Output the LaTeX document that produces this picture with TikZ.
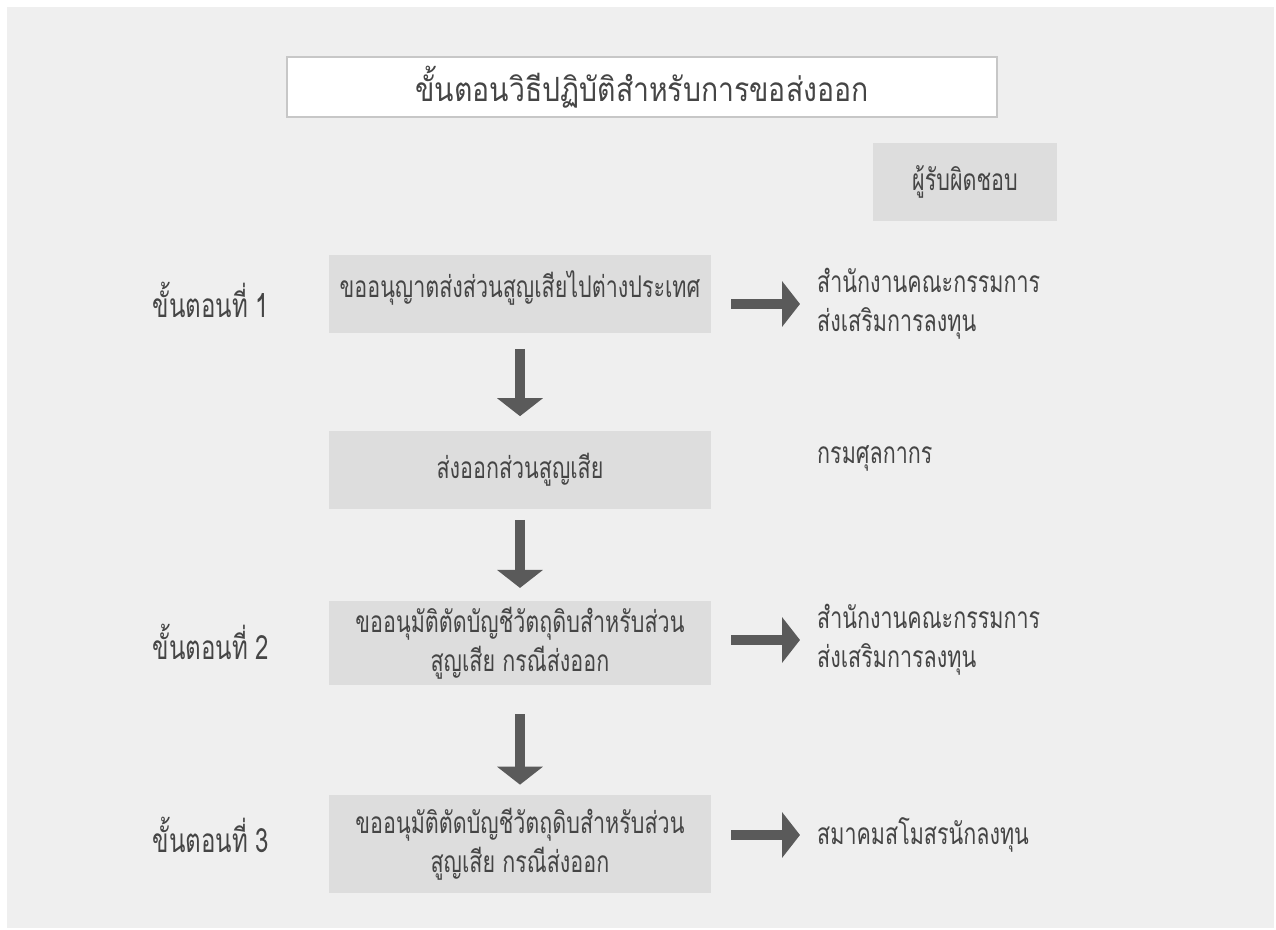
\documentclass[tikz,border=0pt]{standalone}
\usepackage{fontspec}
\setmainfont[Script=Thai]{Loma}
\newfontfamily\thaititle[Script=Thai,FakeStretch=0.85]{Loma}
\newfontfamily\thainarrow[Script=Thai,FakeStretch=0.72]{Loma}
\usetikzlibrary{arrows.meta}
\definecolor{bggray}{HTML}{EFEFEF}
\definecolor{boxgray}{HTML}{DDDDDD}
\definecolor{arrowgray}{HTML}{5A5A5A}
\definecolor{textgray}{HTML}{454545}
\tikzset{
  stepbox/.style={fill=boxgray, minimum width=7.64cm, minimum height=1.58cm,
    align=center, text=textgray, font=\thainarrow\fontsize{17}{22}\selectfont},
  steplabel/.style={text=textgray, font=\thainarrow\fontsize{19}{22}\selectfont},
  whobox/.style={align=left, anchor=west, text=textgray,
    font=\thainarrow\fontsize{17}{22}\selectfont},
  bigarrow/.style={draw=arrowgray, line width=0.21cm,
    -{Triangle[width=0.9cm,length=0.36cm]}}
}
\begin{document}
\begin{tikzpicture}[x=0.02cm, y=-0.02cm]
	\useasboundingbox (0,0) rectangle (1276,930);
	\fill[white] (0,0) rectangle (1276,930);
	\fill[bggray] (7,7) rectangle (1274,928);
	
	\node (title) [draw=black!22, line width=1.5pt, fill=white, minimum width=14.2cm, minimum height=1.2cm,
		text=textgray, font=\thaititle\fontsize{19}{24}\selectfont] at (642,87) {ขั้นตอนวิธีปฏิบัติสำหรับการขอส่งออก};
	\node (who) [fill=boxgray, minimum width=3.68cm, minimum height=1.58cm, text=textgray,
		font=\thainarrow\fontsize{17}{22}\selectfont] at (965,182) {ผู้รับผิดชอบ};
	
	\node (s1) [stepbox, text depth=0.4cm] at (520,294) {ขออนุญาตส่งส่วนสูญเสียไปต่างประเทศ};
	\node (s2) [stepbox] at (520,470) {ส่งออกส่วนสูญเสีย};
	\node (s3) [stepbox] at (520,643) {ขออนุมัติตัดบัญชีวัตถุดิบสำหรับส่วน\\สูญเสีย กรณีส่งออก};
	\node (s4) [stepbox, minimum height=1.96cm] at (520,844) {ขออนุมัติตัดบัญชีวัตถุดิบสำหรับส่วน\\สูญเสีย กรณีส่งออก};
	
	\node (l1) [steplabel] at (211,300) {ขั้นตอนที่ 1};
	\node (l2) [steplabel] at (211,642) {ขั้นตอนที่ 2};
	\node (l3) [steplabel] at (211,835) {ขั้นตอนที่ 3};
	
	\node (r1) [whobox] at (811,304) {สำนักงานคณะกรรมการ\\ส่งเสริมการลงทุน};
	\node (r2) [whobox] at (811,458) {กรมศุลกากร};
	\node (r3) [whobox] at (811,640) {สำนักงานคณะกรรมการ\\ส่งเสริมการลงทุน};
	\node (r4) [whobox] at (811,835) {สมาคมสโมสรนักลงทุน};
	
	\draw[bigarrow, shorten <=0.3cm, shorten >=0.28cm] (s1) -- (s2);
	\draw[bigarrow, shorten <=0.2cm, shorten >=0.26cm] (s2) -- (s3);
	\draw[bigarrow, shorten <=0.58cm, shorten >=0.2cm] (s3) -- (s4);
	
	\draw[bigarrow, shorten <=0.4cm, shorten >=0.22cm] (s1.east |- r1) -- (r1);
	\draw[bigarrow, shorten <=0.4cm, shorten >=0.22cm] (s3.east |- r3) -- (r3);
	\draw[bigarrow, shorten <=0.4cm, shorten >=0.22cm] (s4.east |- r4) -- (r4);
	
\end{tikzpicture}
\end{document}
